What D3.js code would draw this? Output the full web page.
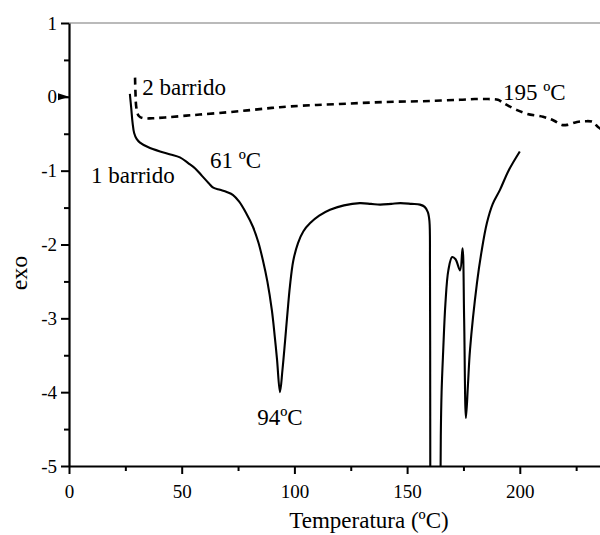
<!DOCTYPE html>
<html>
<head>
<meta charset="utf-8">
<script src="https://cdn.jsdelivr.net/npm/d3@7"></script>
<style>
  html, body { margin: 0; padding: 0; background: #fff; }
  svg { display: block; }
  text { font-family: "Liberation Serif", "Times New Roman", serif; fill: #000; }
</style>
</head>
<body>
<svg id="chart" width="600" height="535"></svg>
<script>
// ---- data ---- (null = pen-up gap where the trace leaves the bottom of the plot)
const run1T = [27.0, 27.6, 28.2, 28.9, 30.0, 31.5, 35.0, 40.4, 45.0, 49.2, 53.0, 56.0, 59.0, 62.0, 64.0, 67.0, 70.0, 72.8, 75.5, 78.5, 81.6, 84.0, 86.0, 88.0, 90.0, 91.3, 92.3, 93.6, 94.7, 95.8, 97.0, 98.0, 99.5, 101.6, 104.0, 107.0, 111.0, 115.8, 122.0, 129.0, 134.0, 138.0, 143.0, 147.0, 152.0, 155.7, 157.8, 159.2, 159.9, 160.15, 160.25, 160.3, 162.5, 164.8, 164.95, 165.3, 166.0, 167.0, 168.3, 170.0, 171.5, 173.5, 174.6, 175.3, 176.1, 177.0, 177.9, 181.0, 183.0, 185.4, 188.0, 191.2, 195.0, 200.0];
const run1V = [0.04, -0.15, -0.35, -0.49, -0.57, -0.62, -0.68, -0.74, -0.78, -0.82, -0.90, -0.97, -1.07, -1.17, -1.23, -1.26, -1.29, -1.33, -1.42, -1.57, -1.76, -1.97, -2.21, -2.50, -2.89, -3.25, -3.56, -4.00, -3.70, -3.33, -2.90, -2.57, -2.22, -1.98, -1.82, -1.71, -1.61, -1.53, -1.47, -1.44, -1.45, -1.46, -1.45, -1.44, -1.45, -1.46, -1.49, -1.56, -1.68, -2.30, -4.00, -5.60, null, -5.60, -4.60, -4.00, -3.45, -2.80, -2.35, -2.17, -2.20, -2.35, -2.05, -3.00, -4.35, -3.90, -3.43, -2.52, -2.10, -1.71, -1.45, -1.26, -1.00, -0.74];

const run2T = [29.3, 29.5, 29.9, 31.0, 33.0, 37.0, 42.6, 50.0, 58.0, 70.0, 80.3, 90.0, 98.0, 110.0, 125.0, 140.0, 155.7, 165.0, 173.5, 180.0, 186.0, 190.3, 192.5, 194.8, 198.8, 203.2, 210.3, 215.0, 218.7, 221.0, 225.4, 229.0, 232.5, 234.7, 238.0];
const run2V = [0.26, 0.05, -0.15, -0.26, -0.29, -0.29, -0.28, -0.26, -0.24, -0.21, -0.18, -0.15, -0.13, -0.11, -0.09, -0.07, -0.06, -0.05, -0.04, -0.03, -0.03, -0.04, -0.08, -0.12, -0.18, -0.23, -0.27, -0.32, -0.38, -0.38, -0.34, -0.33, -0.34, -0.41, -0.47];

const xMajor = [0, 50, 100, 150, 200];
const xMinor = [25, 75, 125, 175, 225];
const yMajor = [-5, -4, -3, -2, -1, 0, 1];
const yMinor = [-4.5, -3.5, -2.5, -1.5, -0.5, 0.5];

const annotations = [
  {text: "2 barrido", T: 32.5, V: 0.02, anchor: "start"},
  {text: "1 barrido", T: 9.8, V: -1.17, anchor: "start"},
  {text: "61 ºC", T: 62.5, V: -0.96, anchor: "start"},
  {text: "94ºC", T: 93.6, V: -4.45, anchor: "middle"},
  {text: "195 ºC", T: 192.5, V: -0.04, anchor: "start"}
];

// ---- layout ----
const svg = d3.select("#chart");
const mLeft = 69, mTop = 23, mBottom = 466;
const pxPerUnit = 2.254;
const x = d3.scaleLinear().domain([0, 250]).range([mLeft, mLeft + 250 * pxPerUnit]);
const y = d3.scaleLinear().domain([-5, 1]).range([mBottom, mTop]);

svg.append("rect").attr("width", 600).attr("height", 535).attr("fill", "#fff");

svg.append("defs").append("clipPath").attr("id", "plotclip")
  .append("rect").attr("x", mLeft).attr("y", mTop).attr("width", 600 - mLeft).attr("height", mBottom - mTop);

// top border line
svg.append("line").attr("x1", mLeft).attr("x2", 600).attr("y1", mTop).attr("y2", mTop)
  .attr("stroke", "#777").attr("stroke-width", 1.2);

const fmt = d => String(d);

// x axis
const gx = svg.append("g").attr("transform", `translate(0,${mBottom})`)
  .call(d3.axisBottom(x).tickValues(xMajor).tickSize(8).tickSizeOuter(0).tickPadding(11).tickFormat(fmt));
gx.append("g").call(d3.axisBottom(x).tickValues(xMinor).tickSize(5).tickSizeOuter(0).tickFormat(""))
  .select(".domain").remove();

// y axis
const gy = svg.append("g").attr("transform", `translate(${mLeft},0)`)
  .call(d3.axisLeft(y).tickValues(yMajor).tickSize(8).tickSizeOuter(0).tickPadding(4).tickFormat(fmt));
gy.append("g").call(d3.axisLeft(y).tickValues(yMinor).tickSize(5).tickSizeOuter(0).tickFormat(""))
  .select(".domain").remove();

svg.selectAll(".domain").attr("stroke", "#000").attr("stroke-width", 2.2);
svg.selectAll(".tick line").attr("stroke", "#000").attr("stroke-width", 2);
svg.selectAll(".tick text").style("font-family", "'Liberation Serif', serif").style("font-size", "19px");

// zero marker
svg.append("path")
  .attr("d", `M${mLeft - 11},${y(0) - 3.5} L${mLeft},${y(0)} L${mLeft - 11},${y(0) + 3.5} Z`)
  .attr("fill", "#000");

// curves
const line = d3.line()
  .defined(d => d[1] !== null)
  .x(d => x(d[0])).y(d => y(d[1]))
  .curve(d3.curveCatmullRom.alpha(0.5));
const plot = svg.append("g").attr("clip-path", "url(#plotclip)");
plot.append("path").datum(run1T.map((t, i) => [t, run1V[i]]))
  .attr("d", line).attr("fill", "none").attr("stroke", "#000").attr("stroke-width", 2.1)
  .attr("stroke-linejoin", "round");
plot.append("path").datum(run2T.map((t, i) => [t, run2V[i]]))
  .attr("d", line).attr("fill", "none").attr("stroke", "#000").attr("stroke-width", 2.6)
  .attr("stroke-dasharray", "7,5");

// annotations
svg.selectAll(".ann").data(annotations).enter().append("text")
  .attr("class", "ann")
  .attr("x", d => x(d.T)).attr("y", d => y(d.V))
  .attr("text-anchor", d => d.anchor)
  .style("font-size", "23px")
  .text(d => d.text);

// axis titles
svg.append("text").attr("x", 369).attr("y", 528).attr("text-anchor", "middle")
  .style("font-size", "23px").text("Temperatura (ºC)");
svg.append("text").attr("transform", "translate(27,273) rotate(-90)").attr("text-anchor", "middle")
  .style("font-size", "24px").text("exo");
</script>
</body>
</html>
